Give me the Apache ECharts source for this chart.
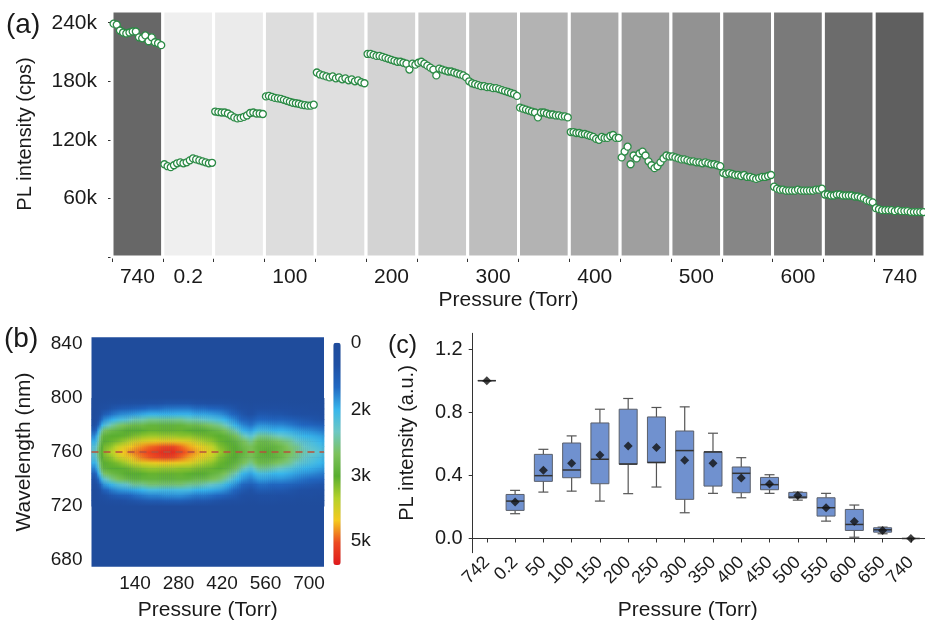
<!DOCTYPE html>
<html>
<head>
<meta charset="utf-8">
<script src="https://cdn.jsdelivr.net/npm/echarts@6/dist/echarts.min.js"></script>
<style>
  html, body { margin: 0; padding: 0; background: #fff; }
  #chart { width: 925px; height: 624px; }
</style>
</head>
<body>
<div id="chart"></div>
<script>
const FONT = 'Liberation Sans, Arial, Helvetica, sans-serif';
const INK = '#1a1a1a';

// ---- (a) PL intensity during the pressure steps (k cps, one array per step)
const aPressures = ['740', '0.2', '50', '100', '150', '200', '250', '300', '350', '400', '450', '500', '550', '600', '650', '740'];
const aShades = ['#676767', '#efefef', '#ebebeb', '#dddddd', '#dfdfdf', '#d3d3d3', '#cacaca', '#bebebe',
                 '#b3b3b3', '#a9a9a9', '#9f9f9f', '#929292', '#868686', '#7a7a7a', '#6c6c6c', '#5f5f5f'];
const aSegments = [
    [239, 238, 232, 230, 229, 230, 231, 231, 225, 224, 227, 221, 225, 220, 219, 217],
    [95, 93, 92, 94, 96, 97, 96, 97, 99, 101, 100, 99, 98, 97, 96, 96.5],
    [149, 148.5, 148, 148, 147, 145, 143, 142, 142.5, 143.5, 145, 147.5, 148, 147, 147, 146.5],
    [164.5, 165, 164, 163, 162.5, 162, 161, 160, 159, 158, 157.5, 157, 156, 155.5, 155, 155, 156],
    [189, 187, 186, 185, 184, 185, 183, 184, 182, 183, 181, 182, 180, 181, 179, 178],
    [208, 208, 207, 206, 206, 205, 204, 203, 202, 201, 200, 200, 199, 198, 192, 198, 197],
    [199, 200, 198, 196, 194, 192, 186, 193, 192, 191, 190, 190, 189, 188, 187, 186, 184],
    [180, 178, 177, 176, 175, 175, 174, 174, 173, 173, 172, 171, 170, 169, 168, 167, 165],
    [153, 152, 151, 150, 149, 148, 143, 148, 148, 147, 146, 146, 145, 145, 144, 144, 143],
    [128, 128, 127, 127, 126, 126, 125, 124, 123, 121, 120, 123, 122, 122, 124, 125, 122, 122],
    [102, 108, 113, 95, 104, 101, 106, 108, 104, 98, 94, 91, 93, 97, 101, 104, 103],
    [103, 102, 101, 100, 100, 99, 98, 98, 97, 97, 96, 97, 96, 95, 95, 94, 93],
    [86, 85, 86, 85, 84, 84, 83, 84, 82, 82, 81, 80, 81, 82, 82, 83, 84],
    [72, 70, 69, 69, 68, 68, 68, 68, 69, 68, 68, 68, 68, 68, 69, 69, 70],
    [64, 64, 63, 63, 64, 64, 63, 63, 63, 63, 62, 62, 61, 60, 58, 57, 56],
    [50, 49, 48, 48, 48, 48, 47, 48, 47, 47, 47, 46, 46, 46, 46, 46]
];
const aYLabels = [60000, 120000, 180000, 240000];
const aYMinor = [30000, 90000, 150000, 210000];

// ---- (b) PL map: sample pressures (Torr), wavelengths (nm), intensity in k counts
const bPMax = 748;
const bPressure = [12.5, 37.5, 62.5, 87.5, 112.5, 137.5, 162.5, 187.5, 212.5, 237.5, 262.5, 287.5, 312.5, 337.5, 362.5,
                   387.5, 412.5, 437.5, 462.5, 487.5, 512.5, 537.5, 562.5, 587.5, 612.5, 637.5, 662.5, 687.5, 712.5, 737.5];
const bWavelength = [796, 792, 788, 784, 780, 776, 772, 768, 764, 760, 756, 752, 748, 744, 740, 736, 732, 728, 724];
const bRows = [
    [0, 0.2, 0.3, 0.4, 0.5, 0.6, 0.6, 0.7, 0.7, 0.8, 0.8, 0.8, 0.8, 0.7, 0.7, 0.6, 0.6, 0.5, 0.4, 0.2, 0.1, 0.2, 0.2, 0.2, 0.2, 0.1, 0.1, 0.1, 0.1, 0.1],
    [0, 0.5, 0.8, 1.0, 1.1, 1.2, 1.3, 1.4, 1.4, 1.5, 1.5, 1.5, 1.5, 1.4, 1.4, 1.3, 1.2, 1.0, 0.8, 0.5, 0.3, 0.5, 0.5, 0.5, 0.4, 0.4, 0.3, 0.3, 0.2, 0.2],
    [0, 1.0, 1.4, 1.6, 1.7, 1.8, 1.9, 2.0, 2.0, 2.0, 2.0, 2.0, 2.0, 1.9, 1.9, 1.8, 1.7, 1.5, 1.2, 0.8, 0.6, 0.9, 0.9, 0.8, 0.8, 0.7, 0.6, 0.5, 0.5, 0.4],
    [0.2, 1.6, 1.9, 2.1, 2.2, 2.4, 2.4, 2.5, 2.5, 2.5, 2.5, 2.5, 2.4, 2.4, 2.3, 2.2, 2.1, 1.9, 1.6, 1.2, 1.0, 1.3, 1.3, 1.2, 1.2, 1.1, 1.0, 0.9, 0.8, 0.7],
    [0.6, 2.1, 2.4, 2.6, 2.7, 2.8, 2.8, 2.9, 2.9, 2.9, 2.9, 2.9, 2.8, 2.8, 2.7, 2.6, 2.5, 2.3, 2.0, 1.6, 1.4, 1.7, 1.7, 1.6, 1.6, 1.5, 1.4, 1.3, 1.2, 1.1],
    [1.1, 2.6, 2.8, 2.9, 3.0, 3.0, 3.0, 3.1, 3.1, 3.1, 3.1, 3.1, 3.0, 3.0, 3.0, 2.9, 2.8, 2.6, 2.4, 2.0, 1.8, 2.1, 2.1, 2.0, 2.0, 1.9, 1.8, 1.7, 1.6, 1.5],
    [1.6, 2.9, 3.0, 3.0, 3.1, 3.3, 3.4, 3.5, 3.5, 3.5, 3.5, 3.4, 3.4, 3.3, 3.2, 3.1, 3.0, 2.9, 2.7, 2.4, 2.2, 2.5, 2.5, 2.4, 2.3, 2.2, 2.1, 2.0, 1.9, 1.8],
    [2.0, 3.0, 3.1, 3.3, 3.6, 4.0, 4.1, 4.2, 4.3, 4.3, 4.3, 4.2, 4.1, 3.9, 3.6, 3.4, 3.1, 3.0, 2.9, 2.7, 2.5, 2.8, 2.8, 2.7, 2.6, 2.5, 2.3, 2.2, 2.1, 2.0],
    [2.2, 3.2, 3.4, 3.9, 4.2, 4.5, 4.7, 4.9, 5.0, 5.1, 5.1, 4.9, 4.6, 4.4, 4.1, 3.8, 3.3, 3.1, 3.0, 2.8, 2.7, 2.9, 2.9, 2.9, 2.8, 2.6, 2.5, 2.3, 2.2, 2.1],
    [2.3, 3.3, 3.7, 4.2, 4.5, 4.8, 5.0, 5.2, 5.4, 5.5, 5.5, 5.2, 4.9, 4.6, 4.3, 4.0, 3.5, 3.2, 3.0, 2.9, 2.7, 2.9, 3.0, 2.9, 2.8, 2.7, 2.5, 2.4, 2.3, 2.2],
    [2.2, 3.2, 3.4, 3.9, 4.2, 4.5, 4.8, 5.0, 5.1, 5.2, 5.1, 4.9, 4.6, 4.4, 4.1, 3.8, 3.3, 3.1, 3.0, 2.8, 2.7, 2.9, 2.9, 2.9, 2.8, 2.6, 2.5, 2.3, 2.2, 2.1],
    [2.0, 3.0, 3.1, 3.3, 3.6, 4.0, 4.1, 4.2, 4.3, 4.4, 4.3, 4.2, 4.1, 3.9, 3.6, 3.4, 3.1, 3.0, 2.9, 2.7, 2.5, 2.8, 2.8, 2.7, 2.6, 2.5, 2.3, 2.2, 2.1, 2.0],
    [1.6, 2.9, 3.0, 3.0, 3.1, 3.3, 3.4, 3.5, 3.5, 3.5, 3.5, 3.4, 3.4, 3.3, 3.2, 3.1, 3.0, 2.9, 2.7, 2.4, 2.2, 2.5, 2.5, 2.4, 2.3, 2.2, 2.1, 2.0, 1.9, 1.8],
    [1.1, 2.6, 2.8, 2.9, 3.0, 3.0, 3.0, 3.1, 3.1, 3.1, 3.1, 3.1, 3.0, 3.0, 3.0, 2.9, 2.8, 2.6, 2.4, 2.0, 1.8, 2.1, 2.1, 2.0, 2.0, 1.9, 1.8, 1.7, 1.6, 1.5],
    [0.7, 2.2, 2.5, 2.7, 2.8, 2.9, 2.9, 2.9, 2.9, 2.9, 2.9, 2.9, 2.9, 2.8, 2.8, 2.7, 2.6, 2.4, 2.1, 1.7, 1.5, 1.8, 1.8, 1.7, 1.7, 1.6, 1.5, 1.4, 1.3, 1.2],
    [0.3, 1.7, 2.0, 2.2, 2.3, 2.5, 2.5, 2.6, 2.6, 2.6, 2.6, 2.6, 2.5, 2.5, 2.4, 2.3, 2.2, 2.0, 1.7, 1.3, 1.1, 1.4, 1.4, 1.3, 1.3, 1.2, 1.1, 1.0, 0.9, 0.8],
    [0, 1.1, 1.5, 1.7, 1.8, 1.9, 2.0, 2.1, 2.1, 2.1, 2.1, 2.1, 2.1, 2.0, 2.0, 1.9, 1.8, 1.6, 1.3, 0.9, 0.7, 1.0, 1.0, 0.9, 0.9, 0.8, 0.7, 0.6, 0.5, 0.5],
    [0, 0.6, 0.9, 1.1, 1.2, 1.4, 1.5, 1.6, 1.6, 1.7, 1.7, 1.7, 1.6, 1.5, 1.5, 1.4, 1.3, 1.1, 0.9, 0.6, 0.4, 0.6, 0.6, 0.6, 0.5, 0.5, 0.4, 0.3, 0.3, 0.2],
    [0, 0.2, 0.4, 0.5, 0.7, 0.8, 0.9, 1.0, 1.0, 1.1, 1.1, 1.1, 1.0, 0.9, 0.9, 0.8, 0.7, 0.6, 0.5, 0.3, 0.1, 0.3, 0.3, 0.3, 0.2, 0.2, 0.1, 0.1, 0.1, 0.1]
];
const bXLabels = [140, 280, 420, 560, 700];
const bYLabels = [680, 720, 760, 800, 840];
const bGuide = 760;
// colour bar: tick values (k) and where they sit along the bar (0 = top, 1 = bottom)
const cbTicks = [0, 2, 3, 5];
const cbNames = ['0', '2k', '3k', '5k'];
const cbPos = [0, 0.30, 0.60, 0.89];
const cbColors = ['#1f4c9c', '#1f50a4', '#2168c2', '#38b6ec', '#6cc8c4', '#7cc25c', '#59ae30',
                  '#b5d22a', '#f5c91f', '#ec4a21', '#e0191c'];

// ---- (c) box statistics per pressure
const cCats = ['742', '0.2', '50', '100', '150', '200', '250', '300', '350', '400', '450', '500', '550', '600', '650', '740'];
const cMin  = [1.0, 0.157, 0.294, 0.300, 0.237, 0.284, 0.326, 0.163, 0.286, 0.258, 0.286, 0.243, 0.110, 0.008, 0.030, 0];
const cQ1   = [1.0, 0.178, 0.362, 0.385, 0.347, 0.470, 0.480, 0.248, 0.332, 0.290, 0.309, 0.256, 0.142, 0.051, 0.040, 0];
const cMed  = [1.0, 0.237, 0.398, 0.434, 0.502, 0.472, 0.482, 0.557, 0.548, 0.413, 0.341, 0.262, 0.195, 0.089, 0.055, 0];
const cQ3   = [1.0, 0.279, 0.533, 0.605, 0.732, 0.819, 0.770, 0.681, 0.550, 0.453, 0.387, 0.292, 0.258, 0.184, 0.068, 0];
const cMax  = [1.0, 0.305, 0.565, 0.650, 0.819, 0.887, 0.830, 0.834, 0.667, 0.512, 0.404, 0.294, 0.286, 0.212, 0.072, 0];
const cMean = [1.0, 0.231, 0.432, 0.476, 0.529, 0.586, 0.576, 0.495, 0.476, 0.383, 0.345, 0.273, 0.195, 0.108, 0.051, 0];
const cYLabels = [0, 0.4, 0.8, 1.2];
const cYMinor = [0.2, 0.6, 1.0];

// position along the colour bar for a value (piecewise between the bar ticks)
function barPos(v) {
    for (let i = 1; i < cbTicks.length; i++) {
        if (v <= cbTicks[i]) {
            return cbPos[i - 1] + (v - cbTicks[i - 1]) / (cbTicks[i] - cbTicks[i - 1]) * (cbPos[i] - cbPos[i - 1]);
        }
    }
    const n = cbTicks.length - 1;
    const slope = (cbPos[n] - cbPos[n - 1]) / (cbTicks[n] - cbTicks[n - 1]);
    return Math.min(1, cbPos[n] + (v - cbTicks[n]) * slope);
}
const barColor = (t) => echarts.color.lerp(Math.max(0, Math.min(1, t)), cbColors);

const aData = aSegments.flatMap((seg, i) => seg.map((v, j) => [i + (j + 0.5) / seg.length, v * 1000]));

// map cells: each one spans between neighbouring samples and is shaded from their colours
// (edge samples repeat the outer columns; above/below the listed rows the map is at background)
const bPs = [0].concat(bPressure, [bPMax]);
const bLs = [bWavelength[0] + 4].concat(bWavelength, [bWavelength[bWavelength.length - 1] - 4]);
const bT = (r, c) => {
    if (r <= 0 || r >= bLs.length - 1) return 0;
    const col = Math.min(Math.max(c - 1, 0), bPressure.length - 1);
    return barPos(bRows[r - 1][col]);
};
const bData = [];
for (let r = 0; r < bLs.length - 1; r++) {
    for (let c = 0; c < bPs.length - 1; c++) {
        bData.push([bPs[c], bPs[c + 1], bLs[r], bLs[r + 1],
                    bT(r, c), bT(r, c + 1), bT(r + 1, c), bT(r + 1, c + 1)]);
    }
}

const cBoxes = cCats.map((c, i) => [i, cMin[i], cQ1[i], cMed[i], cQ3[i], cMax[i]]);
const cMeans = cMean.map((v, i) => [i, v]);

const tick = { fontFamily: FONT, color: INK };
const axisLine = { show: true, lineStyle: { color: '#333', width: 1 } };

const chart = echarts.init(document.getElementById('chart'), null, { renderer: 'canvas' });

chart.setOption({
    animation: false,
    backgroundColor: '#fff',
    grid: [
        { left: 112, top: 11, width: 815, height: 246 },
        { left: 91.5, top: 337.3, width: 232.5, height: 229.4, show: true, backgroundColor: cbColors[0], borderWidth: 0 },
        { left: 472.7, top: 333.3, width: 453, height: 219.4 },
        { left: 333.3, top: 342.7, width: 7.4, height: 222.3 }
    ],
    xAxis: [
        { gridIndex: 0, type: 'value', min: 0, max: 16, show: false },
        {
            gridIndex: 0, type: 'category', data: aPressures, boundaryGap: true, position: 'bottom',
            axisLine: axisLine,
            axisTick: { show: true, length: 5, interval: 0, lineStyle: { color: '#333' } },
            axisLabel: { ...tick, fontSize: 21, margin: 10, interval: (i) => i === 0 || i % 2 === 1 },
            name: 'Pressure (Torr)', nameLocation: 'middle', nameGap: 33,
            nameTextStyle: { fontFamily: FONT, fontSize: 21, color: INK, padding: [0, 0, 0, -20] }
        },
        { gridIndex: 0, type: 'value', position: 'top', min: 0, max: 1, axisLine: axisLine,
          axisTick: { show: false }, axisLabel: { show: false }, splitLine: { show: false } },
        {
            gridIndex: 1, type: 'value', min: 0, max: bPMax,
            axisLine: { show: false }, axisTick: { show: false }, splitLine: { show: false },
            axisLabel: { ...tick, fontSize: 19, margin: 8, customValues: bXLabels },
            name: 'Pressure (Torr)', nameLocation: 'middle', nameGap: 33,
            nameTextStyle: { fontFamily: FONT, fontSize: 21, color: INK }
        },
        {
            gridIndex: 2, type: 'category', data: cCats, boundaryGap: true,
            axisLine: axisLine,
            axisTick: { show: true, alignWithLabel: true, length: 4, lineStyle: { color: '#333' } },
            axisLabel: { ...tick, fontSize: 18, rotate: 45, margin: 7, interval: 0 },
            name: 'Pressure (Torr)', nameLocation: 'middle', nameGap: 47,
            nameTextStyle: { fontFamily: FONT, fontSize: 21, color: INK, padding: [0, 22, 0, 0] }
        },
        { gridIndex: 2, type: 'value', position: 'top', min: 0, max: 1, axisLine: axisLine,
          axisTick: { show: false }, axisLabel: { show: false }, splitLine: { show: false } },
        { gridIndex: 3, type: 'value', min: 0, max: 1, show: false }
    ],
    yAxis: [
        {
            gridIndex: 0, type: 'value', min: 0, max: 252000, offset: 3,
            axisLine: axisLine, splitLine: { show: false },
            axisTick: { show: true, length: 4, customValues: [0].concat(aYLabels), lineStyle: { color: '#333' } },
            axisLabel: { ...tick, fontSize: 21, margin: 12, customValues: aYLabels, formatter: (v) => v / 1000 + 'k' },
            name: 'PL intensity (cps)', nameLocation: 'middle', nameGap: 74,
            nameTextStyle: { fontFamily: FONT, fontSize: 20, color: INK }
        },
        {
            gridIndex: 0, type: 'value', min: 0, max: 252000, offset: 3,
            axisLine: { show: false }, splitLine: { show: false }, axisLabel: { show: false },
            axisTick: { show: true, length: 2.5, customValues: aYMinor, lineStyle: { color: '#333' } }
        },
        {
            gridIndex: 1, type: 'value', min: 675, max: 845,
            axisLine: { show: false }, axisTick: { show: false }, splitLine: { show: false },
            axisLabel: { ...tick, fontSize: 19, margin: 9, customValues: bYLabels },
            name: 'Wavelength (nm)', nameLocation: 'middle', nameGap: 57,
            nameTextStyle: { fontFamily: FONT, fontSize: 21, color: INK }
        },
        {
            gridIndex: 2, type: 'value', min: -0.09, max: 1.3,
            axisLine: axisLine, splitLine: { show: false },
            axisTick: { show: true, length: 4, customValues: cYLabels, lineStyle: { color: '#333' } },
            axisLabel: { ...tick, fontSize: 20, margin: 10, customValues: cYLabels, formatter: (v) => v.toFixed(1) },
            name: 'PL intensity (a.u.)', nameLocation: 'middle', nameGap: 55,
            nameTextStyle: { fontFamily: FONT, fontSize: 20, color: INK }
        },
        {
            gridIndex: 2, type: 'value', min: -0.09, max: 1.3,
            axisLine: { show: false }, splitLine: { show: false }, axisLabel: { show: false },
            axisTick: { show: true, length: 2.5, customValues: cYMinor, lineStyle: { color: '#333' } }
        },
        {
            gridIndex: 3, type: 'value', min: 0, max: 1, inverse: true, position: 'right',
            axisLine: { show: false }, axisTick: { show: false }, splitLine: { show: false },
            axisLabel: {
                ...tick, fontSize: 19, margin: 10, customValues: cbPos,
                formatter: (v) => cbNames[cbPos.indexOf(cbPos.reduce((a, b) => Math.abs(b - v) < Math.abs(a - v) ? b : a))]
            }
        }
    ],
    visualMap: {
        type: 'continuous', seriesIndex: 1, dimension: 4, min: 0, max: 1,
        inverse: true, calculable: false, hoverLink: false,
        left: 333.3, top: 342.7, itemWidth: 7.4, itemHeight: 222.3, padding: 0,
        inRange: { color: cbColors }
    },
    graphic: [
        { type: 'text', left: 6, top: 11, style: { text: '(a)', font: '28px ' + FONT, fill: INK } },
        { type: 'text', left: 4, top: 325, style: { text: '(b)', font: '28px ' + FONT, fill: INK } },
        { type: 'text', left: 388, top: 334, style: { text: '(c)', font: '25px ' + FONT, fill: INK } },
        { type: 'text', left: 473, top: 34, style: { text: '5min', font: '19px ' + FONT, fill: INK } }
    ],
    series: [
        {
            type: 'scatter', xAxisIndex: 0, yAxisIndex: 0, data: aData, z: 3,
            symbol: 'circle', symbolSize: 7,
            itemStyle: { color: '#ffffff', borderColor: '#2b8a45', borderWidth: 1.3, opacity: 1 },
            markArea: {
                silent: true,
                data: aShades.map((c, i) => [
                    { xAxis: i, itemStyle: { color: c, borderColor: '#ffffff', borderWidth: 3 } },
                    { xAxis: i + 1 }
                ])
            }
        },
        {
            type: 'custom', xAxisIndex: 3, yAxisIndex: 2, data: bData, silent: true,
            renderItem: (params, api) => {
                const v = [0, 1, 2, 3, 4, 5, 6, 7].map((k) => api.value(k));
                const a = api.coord([v[0], v[2]]);
                const b = api.coord([v[1], v[3]]);
                const strips = 4;
                const w = (b[0] - a[0]) / strips;
                const children = [];
                for (let k = 0; k < strips; k++) {
                    const s = (k + 0.5) / strips;
                    const top = v[4] + (v[5] - v[4]) * s;
                    const bot = v[6] + (v[7] - v[6]) * s;
                    children.push({
                        type: 'rect',
                        shape: { x: a[0] + k * w, y: a[1], width: w + 0.4, height: b[1] - a[1] + 0.4 },
                        style: {
                            fill: new echarts.graphic.LinearGradient(0, 0, 0, 1, [
                                { offset: 0, color: barColor(top) },
                                { offset: 1, color: barColor(bot) }
                            ])
                        }
                    });
                }
                return { type: 'group', children: children };
            }
        },
        {
            type: 'line', xAxisIndex: 3, yAxisIndex: 2, symbol: 'none', silent: true, z: 5,
            data: [[0, bGuide], [bPMax, bGuide]],
            lineStyle: { color: '#b5533c', width: 1.3, type: [7, 5] }
        },
        {
            type: 'custom', xAxisIndex: 4, yAxisIndex: 3, data: cBoxes,
            renderItem: (params, api) => {
                const x = api.coord([api.value(0), 0])[0];
                const y = (k) => api.coord([api.value(0), api.value(k)])[1];
                const yMin = y(1), yQ1 = y(2), yMed = y(3), yQ3 = y(4), yMax = y(5);
                const hw = 9, cw = 5;
                const ws = { stroke: '#555', lineWidth: 1.2 };
                return {
                    type: 'group',
                    children: [
                        { type: 'line', shape: { x1: x, y1: yMax, x2: x, y2: yQ3 }, style: ws },
                        { type: 'line', shape: { x1: x, y1: yQ1, x2: x, y2: yMin }, style: ws },
                        { type: 'line', shape: { x1: x - cw, y1: yMax, x2: x + cw, y2: yMax }, style: ws },
                        { type: 'line', shape: { x1: x - cw, y1: yMin, x2: x + cw, y2: yMin }, style: ws },
                        { type: 'rect', shape: { x: x - hw, y: yQ3, width: hw * 2, height: yQ1 - yQ3 },
                          style: { fill: '#7091cf', stroke: '#5a5f6a', lineWidth: 1 } },
                        { type: 'line', shape: { x1: x - hw, y1: yMed, x2: x + hw, y2: yMed },
                          style: { stroke: '#333', lineWidth: 1.5 } }
                    ]
                };
            }
        },
        {
            type: 'scatter', xAxisIndex: 4, yAxisIndex: 3, data: cMeans, z: 4,
            symbol: 'diamond', symbolSize: 9, itemStyle: { color: '#111' }
        }
    ]
});
</script>
</body>
</html>
